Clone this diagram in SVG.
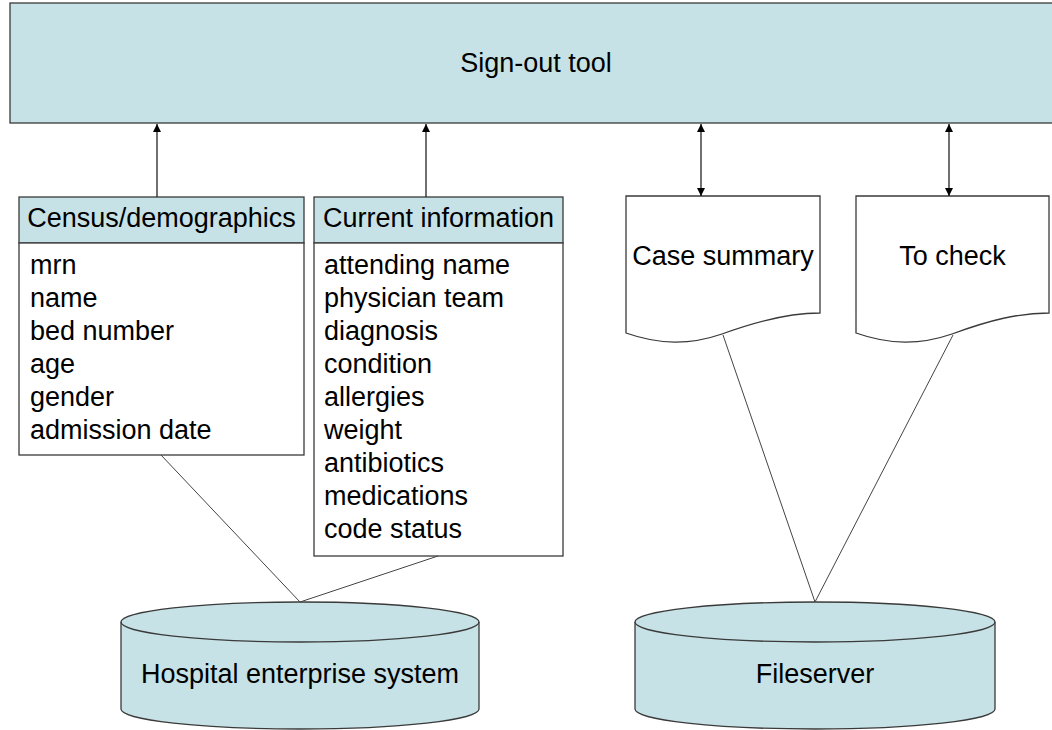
<svg xmlns="http://www.w3.org/2000/svg" width="1052" height="730" viewBox="0 0 1052 730">
<style>
  text { font-family: "Liberation Sans", Arial, sans-serif; font-size: 27px; fill: #000; }
  .fill { fill: #C6E2E6; stroke: #3a3a3a; stroke-width: 1.3; }
  .box { fill: #fff; stroke: #3a3a3a; stroke-width: 1.3; }
  .conn { stroke: #222; stroke-width: 1.3; fill: none; }
  .thin { stroke: #444; stroke-width: 1; fill: none; }
  .mid { text-anchor: middle; }
</style>
<defs>
  <marker id="ah" viewBox="0 0 10 10" refX="10" refY="5" markerWidth="8" markerHeight="8" markerUnits="userSpaceOnUse" orient="auto-start-reverse">
    <path d="M0,0 L10,5 L0,10 Z" fill="#000"/>
  </marker>
</defs>
<rect width="1052" height="730" fill="#fff"/>

<g id="signout">
  <rect class="fill" x="10" y="3" width="1060" height="120"/>
  <text class="mid" x="536" y="72">Sign-out tool</text>
</g>

<g id="census">
  <rect class="fill" x="19" y="197" width="285" height="46"/>
  <rect class="box" x="19" y="243" width="285" height="212"/>
  <text class="mid" x="161.5" y="227">Census/demographics</text>
  <text x="30" y="274">mrn</text>
  <text x="30" y="307">name</text>
  <text x="30" y="340">bed number</text>
  <text x="30" y="373">age</text>
  <text x="30" y="406">gender</text>
  <text x="30" y="439">admission date</text>
</g>

<g id="current">
  <rect class="fill" x="314" y="197" width="249" height="46"/>
  <rect class="box" x="314" y="243" width="249" height="313"/>
  <text class="mid" x="438.5" y="227">Current information</text>
  <text x="324" y="274">attending name</text>
  <text x="324" y="307">physician team</text>
  <text x="324" y="340">diagnosis</text>
  <text x="324" y="373">condition</text>
  <text x="324" y="406">allergies</text>
  <text x="324" y="439">weight</text>
  <text x="324" y="472">antibiotics</text>
  <text x="324" y="505">medications</text>
  <text x="324" y="538">code status</text>
</g>

<g id="casesummary">
  <path class="box" d="M626,196 H820 V313 C790,313 760,320 722,334 C690,345 660,345 626,333 Z"/>
  <text class="mid" x="723" y="265">Case summary</text>
</g>

<g id="tocheck">
  <path class="box" d="M856,196 H1049 V313 C1019,313 990,320 952,334 C920,345 890,345 856,333 Z"/>
  <text class="mid" x="952.5" y="265">To check</text>
</g>

<g id="hospital">
  <path class="fill" d="M121,622 V709 A179,20 0 0 0 479,709 V622"/>
  <ellipse class="fill" cx="300" cy="622" rx="179" ry="20"/>
  <text class="mid" x="300" y="683">Hospital enterprise system</text>
</g>

<g id="fileserver">
  <path class="fill" d="M635,622 V709 A180,20 0 0 0 995,709 V622"/>
  <ellipse class="fill" cx="815" cy="622" rx="180" ry="20"/>
  <text class="mid" x="815" y="683">Fileserver</text>
</g>

<g id="connectors">
  <line class="conn" x1="157" y1="197" x2="157" y2="124" marker-end="url(#ah)"/>
  <line class="conn" x1="426" y1="197" x2="426" y2="124" marker-end="url(#ah)"/>
  <line class="conn" x1="701" y1="124" x2="701" y2="196" marker-start="url(#ah)" marker-end="url(#ah)"/>
  <line class="conn" x1="949" y1="124" x2="949" y2="196" marker-start="url(#ah)" marker-end="url(#ah)"/>
  <line class="thin" x1="161" y1="455" x2="300" y2="602"/>
  <line class="thin" x1="438" y1="556" x2="300" y2="602"/>
  <line class="thin" x1="723" y1="335" x2="815" y2="602"/>
  <line class="thin" x1="953" y1="335" x2="815" y2="602"/>
</g>
</svg>
